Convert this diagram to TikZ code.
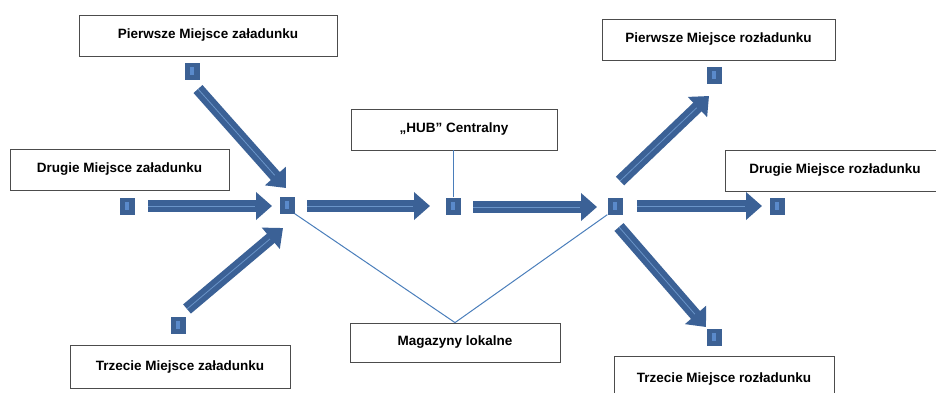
\documentclass[tikz,border=0pt]{standalone}
\usepackage{fontspec}
\setmainfont{Liberation Sans}
\usetikzlibrary{arrows.meta,calc}
\definecolor{stopblue}{HTML}{3C6194}
\definecolor{stopcore}{HTML}{5A8ACB}
\definecolor{flowblue}{HTML}{3B6196}
\definecolor{flowlight}{HTML}{6A94C8}
\definecolor{linkblue}{HTML}{4A7EBB}
\begin{document}
\begin{tikzpicture}[x=1pt,y=-1pt,
  place/.style={draw=black!70, line width=0.8pt, fill=white,
    font=\fontsize{13.5}{16}\selectfont\bfseries, inner sep=0pt, minimum height=41pt},
  stop/.style={fill=stopblue, minimum width=15pt, minimum height=17pt, inner sep=0pt,
    path picture={\fill[stopcore] ($(path picture bounding box.center)+(-2,-4)$) rectangle ++(4,8);}},
  flow/.style={draw=flowblue, line width=12pt, -{Triangle[width=27pt 0 0,length=16pt 0 0]}},
  flowspine/.style={draw=flowlight, line width=0.8pt},
  link/.style={draw=linkblue, line width=1pt}]
\useasboundingbox (0,0) rectangle (936,392);

% loading, hub, local storage and unloading places
\node[place, minimum width=258pt] (load1) at (208,35.5) {Pierwsze Miejsce załadunku};
\node[place, minimum width=219pt] (load2) at (119.5,169.5) {Drugie Miejsce załadunku};
\node[place, minimum width=220pt, minimum height=43pt] (load3) at (180,366.5) {Trzecie Miejsce załadunku};
\node[place, minimum width=206pt] (hub) at (454,129.5) {„HUB” Centralny};
\node[place, minimum width=210pt, minimum height=39pt] (local) at (455,342.5) {Magazyny lokalne};
\node[place, minimum width=233pt] (unload1) at (718.5,39.5) {Pierwsze Miejsce rozładunku};
\node[place, minimum width=220pt] (unload2) at (835,170.5) {Drugie Miejsce rozładunku};
\node[place, minimum width=220pt, minimum height=46pt] (unload3) at (724,379) {Trzecie Miejsce rozładunku};

% stop markers
\node[stop] (s1) at (192,71) {};
\node[stop] (s2) at (127,206) {};
\node[stop] (s3) at (287,205) {};
\node[stop] (s4) at (178,325) {};
\node[stop] (s5) at (453,206) {};
\node[stop] (s6) at (615,206) {};
\node[stop] (s7) at (714,75) {};
\node[stop] (s8) at (777,206) {};
\node[stop] (s9) at (714,337) {};

% thin links to the hub and the local warehouses
\draw[link] (s5.north) -- (s5 |- hub.south);
\draw[link] (s3.south east) -- (local.north) -- (s6.south west);

% block arrows between stops
\newcommand{\flowarrow}[2]{%
  \draw[flow] #1 -- #2;
  \draw[flowspine] #1 -- ($#2!17pt!#1$);}
\flowarrow{([shift={(6,18)}]s1.center)}{([shift={(-1,-17)}]s3.center)}
\flowarrow{([shift={(21,0)}]s2.center)}{([shift={(-15,1)}]s3.center)}
\flowarrow{([shift={(9,-16)}]s4.center)}{([shift={(-4,23)}]s3.center)}
\flowarrow{([shift={(20,1)}]s3.center)}{([shift={(-23,0)}]s5.center)}
\flowarrow{([shift={(20,1)}]s5.center)}{([shift={(-18,1)}]s6.center)}
\flowarrow{([shift={(5,-25)}]s6.center)}{([shift={(-5,21)}]s7.center)}
\flowarrow{([shift={(22,0)}]s6.center)}{([shift={(-15,0)}]s8.center)}
\flowarrow{([shift={(4,21)}]s6.center)}{([shift={(-8,-10)}]s9.center)}
\end{tikzpicture}
\end{document}
